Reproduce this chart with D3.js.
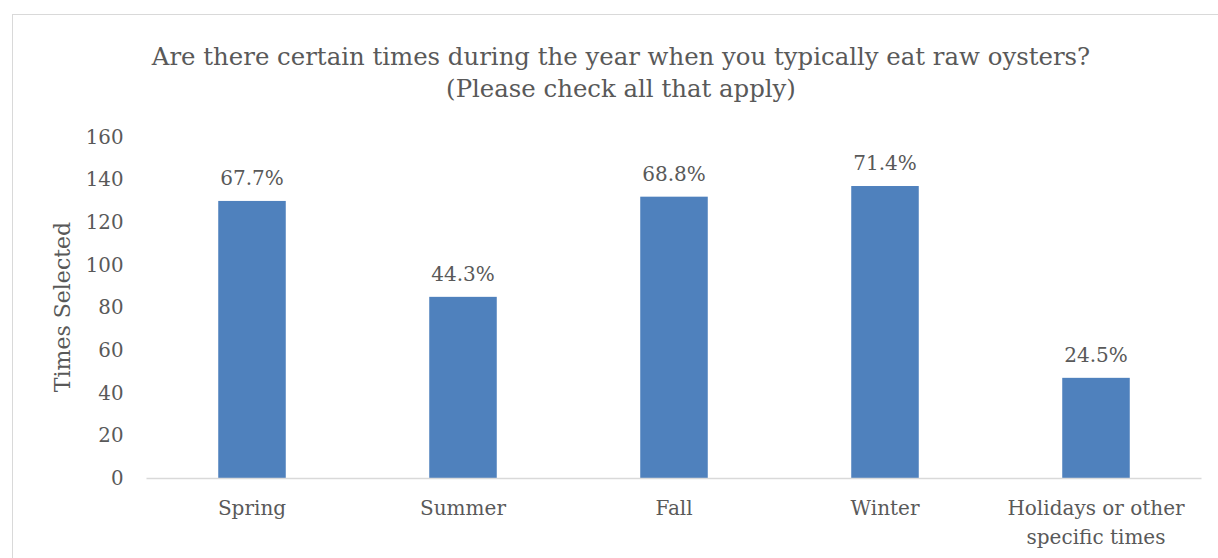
<!DOCTYPE html>
<html><head><meta charset="utf-8">
<script src="https://cdn.jsdelivr.net/npm/d3@7"></script>
<style>body{margin:0;background:#fff}svg{display:block}</style>
</head><body>
<svg id="c" width="1218" height="558"></svg>
<script>
const categories = ["Spring","Summer","Fall","Winter","Holidays or other specific times"];
const values = [130, 85, 132, 137, 47];
const pctLabels = ["67.7%","44.3%","68.8%","71.4%","24.5%"];
const yTicks = [0,20,40,60,80,100,120,140,160];
const titleLines = ["Are there certain times during the year when you typically eat raw oysters?","(Please check all that apply)"];
const yTitle = "Times Selected";

const font = "'DejaVu Serif', serif";
const txt = "#595959";
const svg = d3.select("#c");
svg.append("rect").attr("x",12.5).attr("y",14.5).attr("width",1218).attr("height",560)
  .attr("fill","#fff").attr("stroke","#d9d9d9");

const m = {l:146.5, r:1201.5, t:137, b:478};
const x = d3.scaleBand().domain(categories).range([m.l,m.r]).paddingInner(0.68).paddingOuter(0.34);
const y = d3.scaleLinear().domain([0,160]).range([m.b,m.t]);

svg.append("g").selectAll("text").data(titleLines).join("text")
  .attr("x",621).attr("y",(d,i)=>65+i*32).attr("text-anchor","middle")
  .attr("font-family",font).attr("font-size",24.4).attr("fill",txt).text(d=>d);

const ya = svg.append("g").attr("transform",`translate(${m.l},0)`)
  .call(d3.axisLeft(y).tickValues(yTicks).tickSize(0).tickPadding(23));
ya.select(".domain").remove();
ya.selectAll("text").attr("font-family",font).attr("font-size",19.8).attr("fill",txt);

svg.append("text").attr("transform","translate(70,307) rotate(-90)").attr("text-anchor","middle")
  .attr("font-family",font).attr("font-size",22).attr("fill",txt).text(yTitle);

svg.append("g").selectAll("rect").data(values).join("rect")
  .attr("x",(d,i)=>x(categories[i])).attr("width",x.bandwidth())
  .attr("y",d=>y(d)).attr("height",d=>y(0)-y(d)).attr("fill","#4f81bd");

svg.append("line").attr("x1",m.l).attr("x2",m.r).attr("y1",m.b+0.5).attr("y2",m.b+0.5)
  .attr("stroke","#d9d9d9").attr("stroke-width",1.5);

svg.append("g").selectAll("text").data(values).join("text")
  .attr("x",(d,i)=>x(categories[i])+x.bandwidth()/2).attr("y",d=>y(d)-16)
  .attr("text-anchor","middle").attr("font-family",font).attr("font-size",20).attr("fill",txt)
  .text((d,i)=>pctLabels[i]);

const xa = svg.append("g").attr("transform",`translate(0,${m.b})`);
categories.forEach((c,i)=>{
  const cx = x(c)+x.bandwidth()/2;
  const lines = i===4 ? ["Holidays or other","specific times"] : [c];
  lines.forEach((l,j)=>{
    xa.append("text").attr("x",cx).attr("y",37+j*29).attr("text-anchor","middle")
      .attr("font-family",font).attr("font-size",20).attr("fill",txt).text(l);
  });
});
</script>
</body></html>
